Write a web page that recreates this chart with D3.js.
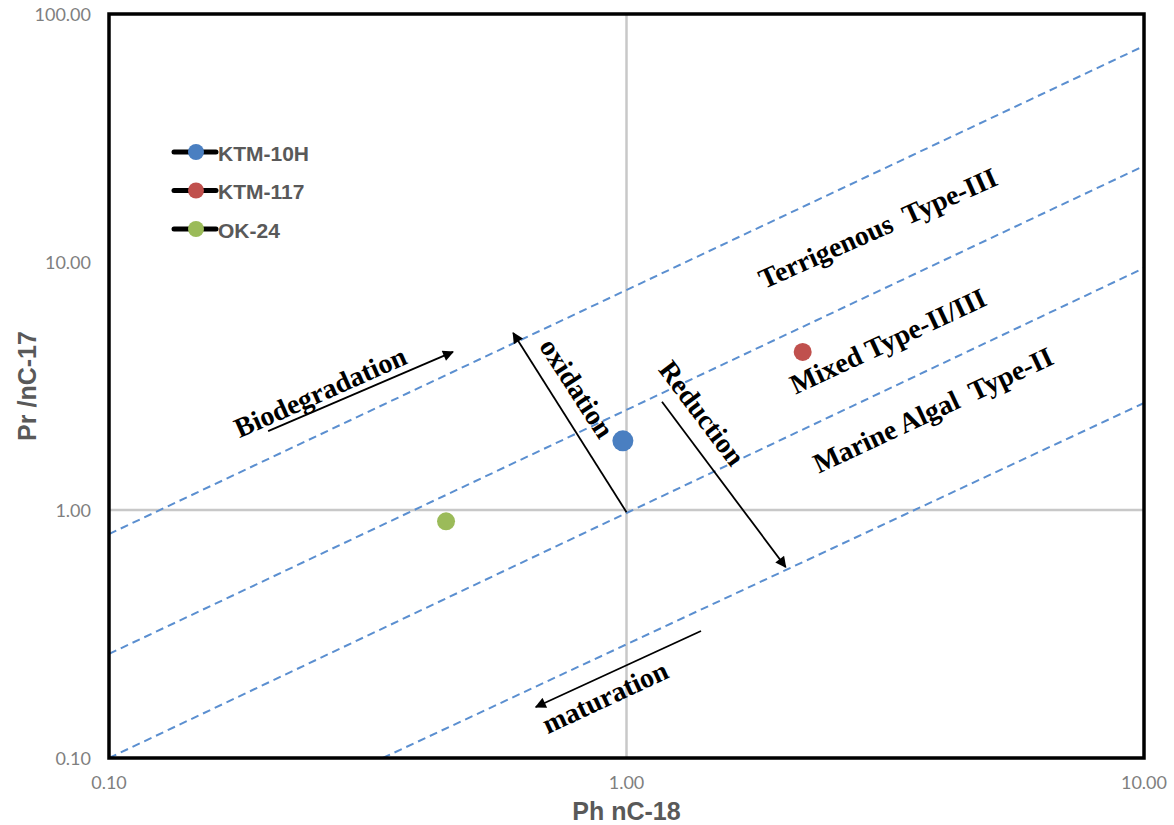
<!DOCTYPE html>
<html>
<head>
<meta charset="utf-8">
<script src="https://cdn.jsdelivr.net/npm/d3@7"></script>
<style>
  html, body { margin: 0; padding: 0; background: #fff; }
  svg { display: block; }
</style>
</head>
<body>
<svg id="chart" width="1174" height="825"></svg>
<script>
// Samples: Ph/nC-18 (x) vs Pr/nC-17 (y)
const sampleNames = ["KTM-10H", "KTM-117", "OK-24"];
const phNC18 = [0.984, 2.19, 0.448];
const prNC17 = [1.90, 4.34, 0.90];
const sampleColors = ["#4a7fc1", "#c0504d", "#9bbb59"];
const sampleRadius = [10.5, 9, 9];

// Axis ticks
const xTicks = [0.1, 1, 10];
const yTicks = [0.1, 1, 10, 100];

// Facies boundary lines: [x0, y0, x1, y1]
const boundaryLines = [
  [0.1, 0.80, 10, 74.3],
  [0.1, 0.263, 10, 24.4],
  [0.1, 0.1, 10, 9.46],
  [0.338, 0.1, 10, 2.70]
];

// Process arrows: [xFrom, yFrom, xTo, yTo]
const processArrows = [
  [0.203, 2.08, 0.462, 4.34],   // biodegradation
  [1.0, 0.98, 0.604, 5.17],     // oxidation
  [1.171, 2.73, 2.03, 0.589],   // reduction
  [1.393, 0.325, 0.668, 0.1606] // maturation
];

// Annotation labels: text, x, y, angle
const noteText = ["Biodegradation", "oxidation", "Reduction", "maturation",
  "Terrigenous  Type-III", "Mixed Type-II/III", "Marine Algal  Type-II"];
const noteX = [0.256, 0.802, 1.399, 0.909, 3.06, 3.20, 3.91];
const noteY = [2.99, 3.10, 2.46, 0.176, 13.7, 4.80, 2.53];
const noteAngle = [-24, 57, 53, -25, -24, -25, -25];

const svg = d3.select("#chart");
const m = { left: 109, top: 14, right: 1174 - 1144, bottom: 825 - 758 };
const W = 1174 - m.left - m.right;
const H = 825 - m.top - m.bottom;

const x = d3.scaleLog().domain([0.1, 10]).range([0, W]);
const y = d3.scaleLog().domain([0.1, 100]).range([H, 0]);

svg.append("defs").append("marker")
  .attr("id", "arrowhead")
  .attr("viewBox", "0 0 10 10")
  .attr("refX", 9).attr("refY", 5)
  .attr("markerWidth", 13).attr("markerHeight", 11)
  .attr("markerUnits", "userSpaceOnUse")
  .attr("orient", "auto")
  .append("path").attr("d", "M0,0 L10,5 L0,10 Z").attr("fill", "#000");

const g = svg.append("g").attr("transform", `translate(${m.left},${m.top})`);

// gridlines at 1.0
g.append("line")
  .attr("x1", x(1)).attr("x2", x(1)).attr("y1", 0).attr("y2", H)
  .attr("stroke", "#c8c8c8").attr("stroke-width", 2.5);
g.append("line")
  .attr("x1", 0).attr("x2", W).attr("y1", y(1)).attr("y2", y(1))
  .attr("stroke", "#c8c8c8").attr("stroke-width", 2.5);

// dashed facies boundaries
g.selectAll(".boundary").data(boundaryLines).join("line")
  .attr("class", "boundary")
  .attr("x1", d => x(d[0])).attr("y1", d => y(d[1]))
  .attr("x2", d => x(d[2])).attr("y2", d => y(d[3]))
  .attr("stroke", "#5b8fd0").attr("stroke-width", 2)
  .attr("stroke-dasharray", "8,5");

// process arrows
g.selectAll(".process").data(processArrows).join("line")
  .attr("class", "process")
  .attr("x1", d => x(d[0])).attr("y1", d => y(d[1]))
  .attr("x2", d => x(d[2])).attr("y2", d => y(d[3]))
  .attr("stroke", "#000").attr("stroke-width", 1.8)
  .attr("marker-end", "url(#arrowhead)");

// annotations
g.selectAll(".note").data(noteText).join("text")
  .attr("class", "note")
  .attr("transform", (d, i) => `translate(${x(noteX[i])},${y(noteY[i])}) rotate(${noteAngle[i]})`)
  .attr("text-anchor", "middle")
  .attr("dominant-baseline", "central")
  .attr("font-family", "'Liberation Serif', 'Times New Roman', serif")
  .attr("font-weight", "bold")
  .attr("font-size", 28)
  .style("white-space", "pre")
  .attr("fill", "#000")
  .text(d => d);

// sample points
g.selectAll(".sample").data(sampleNames).join("circle")
  .attr("class", "sample")
  .attr("cx", (d, i) => x(phNC18[i]))
  .attr("cy", (d, i) => y(prNC17[i]))
  .attr("r", (d, i) => sampleRadius[i])
  .attr("fill", (d, i) => sampleColors[i]);

// frame
g.append("rect")
  .attr("x", 0).attr("y", 0).attr("width", W).attr("height", H)
  .attr("fill", "none").attr("stroke", "#000").attr("stroke-width", 3.5);

// tick labels
const fmt = d3.format(".2f");
g.selectAll(".ytick").data(yTicks).join("text")
  .attr("class", "ytick")
  .attr("x", -18).attr("y", d => y(d))
  .attr("text-anchor", "end").attr("dominant-baseline", "central")
  .attr("font-family", "Lato, 'Liberation Sans', sans-serif")
  .attr("font-size", 18).attr("fill", "#7f7f7f")
  .text(d => fmt(d));
g.selectAll(".xtick").data(xTicks).join("text")
  .attr("class", "xtick")
  .attr("x", d => x(d)).attr("y", H + 24)
  .attr("text-anchor", "middle").attr("dominant-baseline", "central")
  .attr("font-family", "Lato, 'Liberation Sans', sans-serif")
  .attr("font-size", 18).attr("fill", "#7f7f7f")
  .text(d => fmt(d));

// axis titles
svg.append("text")
  .attr("x", m.left + W / 2).attr("y", 811)
  .attr("text-anchor", "middle").attr("dominant-baseline", "central")
  .attr("font-family", "'Liberation Sans', Arial, sans-serif")
  .attr("font-weight", "bold").attr("font-size", 25).attr("fill", "#595959")
  .text("Ph nC-18");
svg.append("text")
  .attr("transform", `translate(27,${m.top + H / 2}) rotate(-90)`)
  .attr("text-anchor", "middle").attr("dominant-baseline", "central")
  .attr("font-family", "'Liberation Sans', Arial, sans-serif")
  .attr("font-weight", "bold").attr("font-size", 25).attr("fill", "#595959")
  .text("Pr /nC-17");

// legend
const legend = svg.append("g").attr("transform", "translate(174,152)");
const rows = legend.selectAll("g").data(sampleNames).join("g")
  .attr("transform", (d, i) => `translate(0,${i * 38.5})`);
rows.append("line")
  .attr("x1", 0).attr("x2", 42).attr("y1", 0).attr("y2", 0)
  .attr("stroke", "#000").attr("stroke-width", 5).attr("stroke-linecap", "round");
rows.append("circle")
  .attr("cx", 22).attr("cy", 0).attr("r", 8)
  .attr("fill", (d, i) => sampleColors[i]);
rows.append("text")
  .attr("x", 44).attr("y", 1).attr("dominant-baseline", "central")
  .attr("font-family", "'Liberation Sans', Arial, sans-serif")
  .attr("font-weight", "bold").attr("font-size", 21).attr("fill", "#595959")
  .text(d => d);
</script>
</body>
</html>
